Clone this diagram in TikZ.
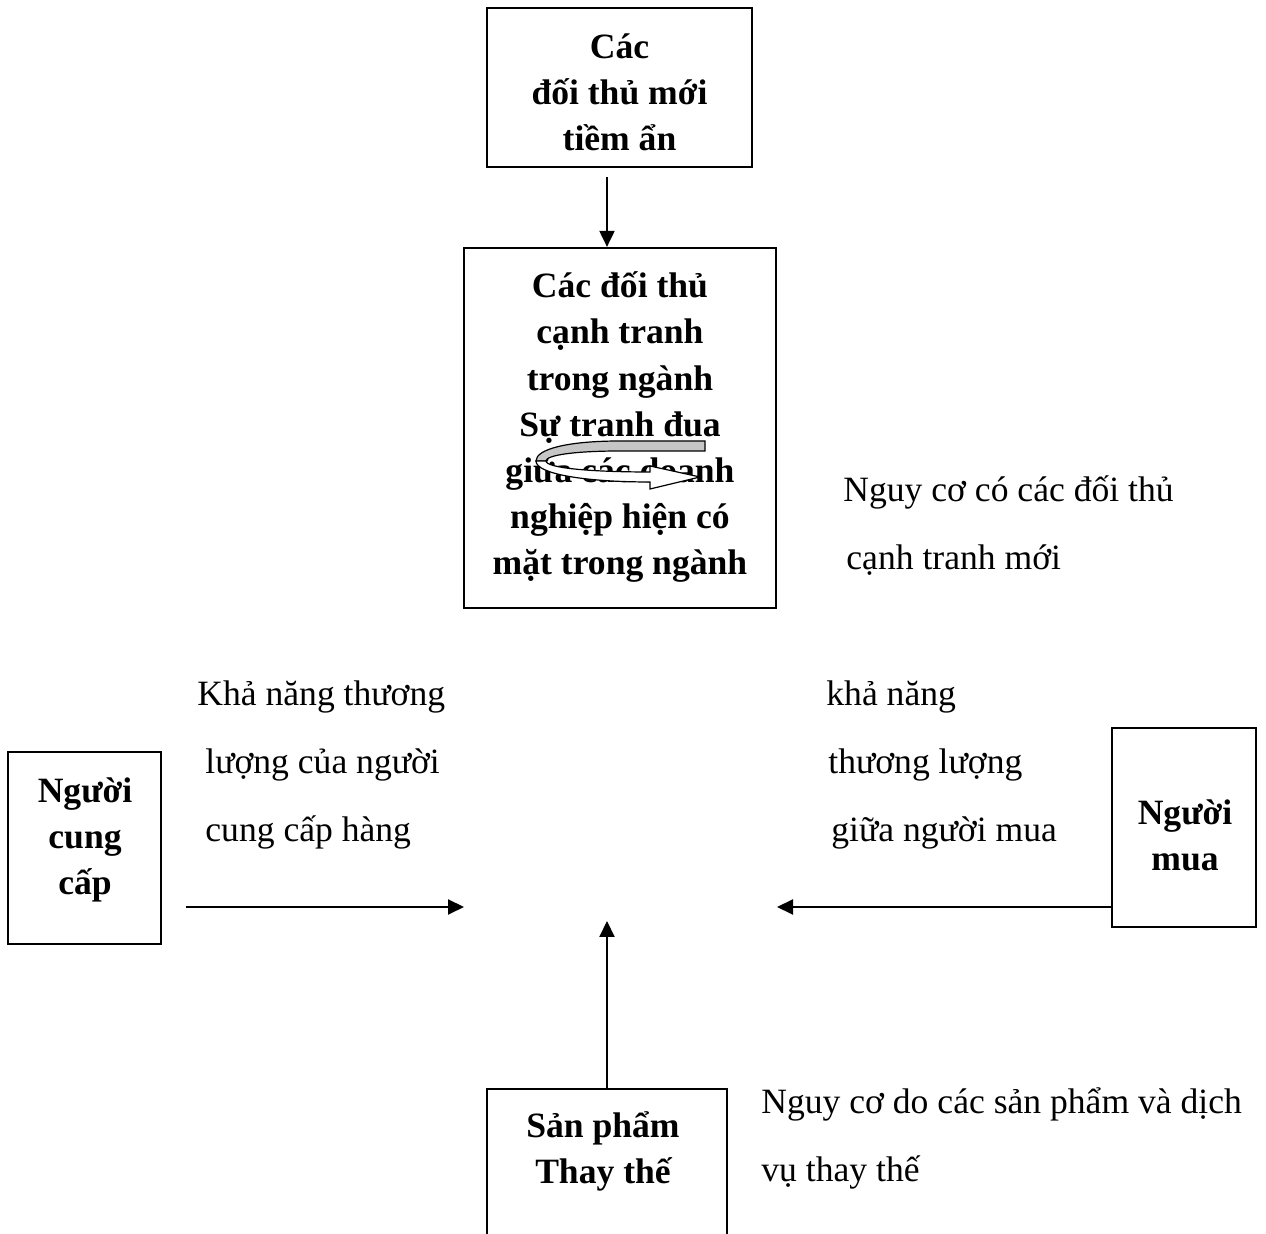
\documentclass[tikz,border=0pt]{standalone}
\usepackage{fontspec}
\setmainfont{Liberation Serif}
\usetikzlibrary{arrows.meta}
\begin{document}
\begin{tikzpicture}[x=0.5pt,y=-0.5pt,
  frame/.style={draw, line width=1.1pt, rectangle, inner sep=0pt},
  boxtext/.style={font=\fontsize{17.8}{23.1}\selectfont\bfseries, align=center, inner sep=0pt, anchor=base},
  lbl/.style={font=\fontsize{17.8}{21}\selectfont, inner sep=0pt, anchor=base west},
  arr/.style={line width=1pt, -{Triangle[length=8pt,width=7.5pt]}},
  swirl/.style={line width=0.6pt, line join=miter}]
\clip (0,0) rectangle (1266,1234);
\fill[white] (0,0) rectangle (1266,1234);

% boxes (text nodes are placed by the baseline of their last line)
\node[frame, minimum width=132.5pt, minimum height=79.5pt] (rivals) at (619.5,87.5) {};
\node[boxtext] (rivals-t) at (619.5,151) {Các\\đối thủ mới\\tiềm ẩn};

\node[frame, minimum width=156pt, minimum height=180pt] (mid) at (620,428) {};
\node[boxtext] (mid-t) at (620,575) {Các đối thủ\\cạnh tranh\\trong ngành\\Sự tranh đua\\giữa các doanh\\nghiệp hiện có\\mặt trong ngành};

\node[frame, minimum width=76.5pt, minimum height=96pt] (supplier) at (84.5,848) {};
\node[boxtext] (supplier-t) at (85,895) {Người\\cung\\cấp};

\node[frame, minimum width=72pt, minimum height=99.5pt] (buyer) at (1184,827.5) {};
\node[boxtext] (buyer-t) at (1185,871) {Người\\mua};

\node[frame, minimum width=120pt, minimum height=200pt] (subst) at (607,1289) {};
\node[boxtext] (subst-t) at (603,1184) {Sản phẩm\\Thay thế};

% rivalry swirl inside the central box
\filldraw[swirl, fill=gray!45] (705,441) -- (620,441)
  .. controls (568,441) and (536,449) .. (536,461) -- (546,461)
  .. controls (546,455) and (576,451) .. (620,451) -- (705,451) -- cycle;
\filldraw[swirl, fill=white] (536,461)
  .. controls (536,474) and (585,482) .. (650,482) -- (650,489) -- (700,477)
  -- (650,466) -- (650,472)
  .. controls (590,472) and (546,468) .. (546,461) -- cycle;

% connectors
\coordinate (ax) at (607,0);
\coordinate (outL) at (186,907);
\coordinate (inL) at (464,907);
\coordinate (inR) at (777,907);
\coordinate (inB) at (607,921);
\draw[arr, shorten <=4.5pt] (rivals.south -| ax) -- (mid.north -| ax);
\draw[arr] (outL) -- (inL);
\draw[arr] (buyer.west |- inR) -- (inR);
\draw[arr] (subst.north) -- (inB);

% force labels
\node[lbl] (newrisk-1) at (843,502) {Nguy cơ có các đối thủ};
\node[lbl] (newrisk-2) at (846,570) {cạnh tranh mới};
\node[lbl] (suppow-1) at (197,706) {Khả năng thương};
\node[lbl] (suppow-2) at (205,774) {lượng của người};
\node[lbl] (suppow-3) at (205,842) {cung cấp hàng};
\node[lbl] (buypow-1) at (826,706) {khả năng};
\node[lbl] (buypow-2) at (828,774) {thương lượng};
\node[lbl] (buypow-3) at (831,842) {giữa người mua};
\node[lbl] (subrisk-1) at (761,1114) {Nguy cơ do các sản phẩm và dịch};
\node[lbl] (subrisk-2) at (761,1182) {vụ thay thế};
\end{tikzpicture}
\end{document}
